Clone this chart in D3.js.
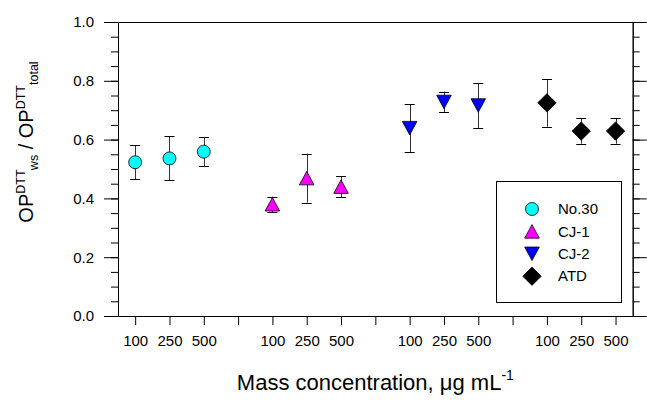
<!DOCTYPE html>
<html>
<head>
<meta charset="utf-8">
<script src="https://cdn.jsdelivr.net/npm/d3@7"></script>
<style>
  body { margin: 0; background: #fff; }
  svg { display: block; font-family: "Liberation Sans", Arial, sans-serif; }
  .axis path, .axis line { stroke: #000; }
</style>
</head>
<body>
<div id="graph"></div>
<script>
var groups = ['No.30', 'CJ-1', 'CJ-2', 'ATD']
var concLabels = ['100', '250', '500']

var no30 = [0.523, 0.536, 0.559]
var no30Err = [0.058, 0.075, 0.049]
var cj1 = [0.380, 0.469, 0.440]
var cj1Err = [0.026, 0.083, 0.035]
var cj2 = [0.639, 0.728, 0.716]
var cj2Err = [0.082, 0.035, 0.077]
var atd = [0.725, 0.629, 0.629]
var atdErr = [0.081, 0.043, 0.043]

var yTicks = [0, 0.2, 0.4, 0.6, 0.8, 1.0]
var yMinor = d3.range(0, 1.0001, 0.05)

var colors = ['#00ffff', '#ff00ff', '#0000ff', '#000000']
var shapes = ['circle', 'up', 'down', 'diamond']

var series = [no30, cj1, cj2, atd].map(function(vals, g) {
  var errs = [no30Err, cj1Err, cj2Err, atdErr][g]
  return vals.map(function(v, j) {
    return {group: g, conc: j, val: v, err: errs[j]}
  })
})
var points = d3.merge(series)

// slot on the category axis: 3 concentrations per group, one gap between groups
function slot(d) { return d.group * 4 + d.conc + 1 }

var width = 647, height = 400
var svg = d3.select('#graph').html('').append('svg')
  .attr('width', width).attr('height', height)

var x = d3.scaleLinear().domain([0.5, 15.5]).range([118, 632.7])
var y = d3.scaleLinear().domain([0, 1]).range([316, 22])

function shapePath(type, s) {
  if (type == 'circle') {
    var r = s * 0.48
    return 'M' + (-r) + ',0A' + r + ',' + r + ' 0 1,0 ' + r + ',0A' + r + ',' + r + ' 0 1,0 ' + (-r) + ',0Z'
  }
  if (type == 'up') return 'M0,' + (-s/2) + 'L' + (s*0.54) + ',' + (s/2) + 'L' + (-s*0.54) + ',' + (s/2) + 'Z'
  if (type == 'down') return 'M0,' + (s/2) + 'L' + (s*0.54) + ',' + (-s/2) + 'L' + (-s*0.54) + ',' + (-s/2) + 'Z'
  var h = s * 0.68
  return 'M0,' + (-h) + 'L' + h + ',0L0,' + h + 'L' + (-h) + ',0Z'
}

function labelStyle(g) {
  g.selectAll('text').attr('font-size', 15).attr('font-family', null).attr('fill', '#000')
}

// axes
var bottomValues = d3.range(1, 16)
svg.append('g').attr('class', 'axis')
  .attr('transform', 'translate(0,' + y(0) + ')')
  .call(d3.axisBottom(x).tickValues(bottomValues).tickSize(9).tickSizeOuter(0).tickPadding(10)
    .tickFormat(function(d) { return d % 4 == 0 ? '' : concLabels[(d - 1) % 4] }))
  .call(labelStyle)

svg.append('g').attr('class', 'axis')
  .attr('transform', 'translate(0,' + y(1) + ')')
  .call(d3.axisTop(x).tickValues([]).tickSizeOuter(0))

svg.append('g').attr('class', 'axis')
  .attr('transform', 'translate(' + x.range()[0] + ',0)')
  .call(d3.axisLeft(y).tickValues(yMinor).tickSize(7).tickSizeOuter(0).tickFormat(''))
svg.append('g').attr('class', 'axis')
  .attr('transform', 'translate(' + x.range()[0] + ',0)')
  .call(d3.axisLeft(y).tickValues(yTicks).tickSize(14).tickSizeOuter(0).tickPadding(10).tickFormat(d3.format('.1f')))
  .call(labelStyle)

svg.append('g').attr('class', 'axis')
  .attr('transform', 'translate(' + x.range()[1] + ',0)')
  .call(d3.axisRight(y).tickValues(yMinor).tickSize(7).tickSizeOuter(0).tickFormat(''))
svg.append('g').attr('class', 'axis')
  .attr('transform', 'translate(' + x.range()[1] + ',0)')
  .call(d3.axisRight(y).tickValues(yTicks).tickSize(14).tickSizeOuter(0).tickFormat(''))

// error bars
var eb = svg.append('g').selectAll('g').data(points).join('g')
  .attr('stroke', '#333').attr('stroke-width', 1)
eb.append('line')
  .attr('x1', function(d) { return Math.round(x(slot(d))) + 0.5 })
  .attr('x2', function(d) { return Math.round(x(slot(d))) + 0.5 })
  .attr('y1', function(d) { return y(d.val + d.err) })
  .attr('y2', function(d) { return y(d.val - d.err) })
eb.selectAll('.cap').data(function(d) { return [d.val + d.err, d.val - d.err].map(function(v) { return {d: d, v: v} }) })
  .join('line').attr('class', 'cap').attr('stroke', '#000')
  .attr('x1', function(c) { return x(slot(c.d)) - 5 })
  .attr('x2', function(c) { return x(slot(c.d)) + 5 })
  .attr('y1', function(c) { return Math.round(y(c.v)) + 0.5 })
  .attr('y2', function(c) { return Math.round(y(c.v)) + 0.5 })

// markers
svg.append('g').selectAll('path').data(points).join('path')
  .attr('d', function(d) { return shapePath(shapes[d.group], 13.5) })
  .attr('transform', function(d) { return 'translate(' + x(slot(d)) + ',' + y(d.val) + ')' })
  .attr('fill', function(d) { return colors[d.group] })
  .attr('stroke', '#000').attr('stroke-width', 0.8)

// legend
var legend = svg.append('g')
legend.append('rect')
  .attr('x', 496.5).attr('y', 181.5).attr('width', 125).attr('height', 121)
  .attr('fill', '#fff').attr('stroke', '#000')
var items = legend.selectAll('g').data(groups).join('g')
  .attr('transform', function(d, i) { return 'translate(532,' + (209 + i * 22.4) + ')' })
items.append('path')
  .attr('d', function(d, i) { return shapePath(shapes[i], 13.5) })
  .attr('fill', function(d, i) { return colors[i] })
  .attr('stroke', '#000').attr('stroke-width', 0.8)
items.append('text')
  .attr('x', 26).attr('dy', '0.35em').attr('font-size', 15)
  .text(function(d) { return d })

// axis titles
svg.append('text')
  .attr('x', (x.range()[0] + x.range()[1]) / 2).attr('y', 390)
  .attr('text-anchor', 'middle').attr('font-size', 22)
  .text('Mass concentration, \u03bcg mL')
  .append('tspan').attr('font-size', 14).attr('dy', -10).text('-1')

var yt = svg.append('text')
  .attr('transform', 'translate(33,142) rotate(-90)')
  .attr('text-anchor', 'middle').attr('font-size', 20)
yt.append('tspan').text('OP')
yt.append('tspan').attr('font-size', 12.5).attr('dy', -8).text('DTT')
yt.append('tspan').attr('font-size', 12.5).attr('dy', 13).text('ws')
yt.append('tspan').attr('dy', -5).text(' / OP')
yt.append('tspan').attr('font-size', 12.5).attr('dy', -8).text('DTT')
yt.append('tspan').attr('font-size', 12.5).attr('dy', 13).text('total')
</script>
</body>
</html>
